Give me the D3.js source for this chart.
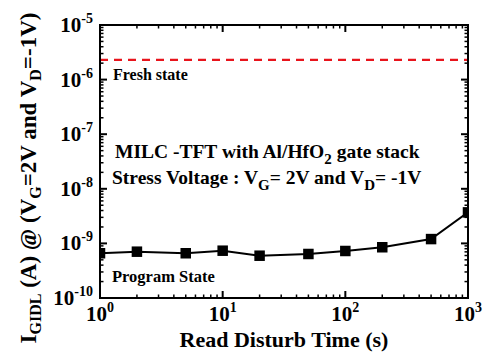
<!DOCTYPE html>
<html>
<head>
<meta charset="utf-8">
<script src="https://cdn.jsdelivr.net/npm/d3@7"></script>
<style>
  body { margin: 0; background: #fff; }
  text { font-family: "Liberation Serif", "Times New Roman", serif; font-weight: bold; fill: #000; }
</style>
</head>
<body>
<svg id="chart"></svg>
<script>
// ---- data ----
const times = [1, 2, 5, 10, 20, 50, 100, 200, 500, 1000];
const programCurrent = [6.6e-10, 7.05e-10, 6.6e-10, 7.35e-10, 5.95e-10, 6.4e-10, 7.26e-10, 8.5e-10, 1.2e-9, 3.7e-9];
const freshCurrent = 2.29e-6;
const xTickExps = [0, 1, 2, 3];
const yTickExps = [-10, -9, -8, -7, -6, -5];

// ---- setup ----
const width = 493, height = 360;
const margin = { left: 100, right: 25, top: 25, bottom: 62 };
const svg = d3.select("#chart").attr("width", width).attr("height", height);

const x = d3.scaleLog().domain([1, 1000]).range([margin.left, width - margin.right]);
const y = d3.scaleLog().domain([1e-10, 1e-5]).range([height - margin.bottom, margin.top]);

const x0 = x.range()[0], x1 = x.range()[1];
const y0 = y.range()[0], y1 = y.range()[1];

svg.append("clipPath").attr("id", "plotClip")
  .append("rect").attr("x", x0).attr("y", y1).attr("width", x1 - x0).attr("height", y0 - y1);

// minor tick values
const xMinor = [];
for (let e = 0; e < 3; e++) for (let m = 2; m <= 9; m++) xMinor.push(m * Math.pow(10, e));
const yMinor = [];
for (let e = -10; e < -5; e++) for (let m = 2; m <= 9; m++) yMinor.push(m * Math.pow(10, e));

const ticks = svg.append("g").attr("stroke", "#000");
// x ticks, bottom and top, pointing inward
xTickExps.forEach(e => {
  const px = x(Math.pow(10, e));
  ticks.append("line").attr("x1", px).attr("x2", px).attr("y1", y0).attr("y2", y0 - 7).attr("stroke-width", 2);
  ticks.append("line").attr("x1", px).attr("x2", px).attr("y1", y1).attr("y2", y1 + 7).attr("stroke-width", 2);
});
xMinor.forEach(v => {
  const px = x(v);
  ticks.append("line").attr("x1", px).attr("x2", px).attr("y1", y0).attr("y2", y0 - 3.5).attr("stroke-width", 1.5);
  ticks.append("line").attr("x1", px).attr("x2", px).attr("y1", y1).attr("y2", y1 + 3.5).attr("stroke-width", 1.5);
});
yTickExps.forEach(e => {
  const py = y(Math.pow(10, e));
  ticks.append("line").attr("x1", x0).attr("x2", x0 + 7).attr("y1", py).attr("y2", py).attr("stroke-width", 2);
  ticks.append("line").attr("x1", x1).attr("x2", x1 - 7).attr("y1", py).attr("y2", py).attr("stroke-width", 2);
});
yMinor.forEach(v => {
  const py = y(v);
  ticks.append("line").attr("x1", x0).attr("x2", x0 + 3.5).attr("y1", py).attr("y2", py).attr("stroke-width", 1.5);
  ticks.append("line").attr("x1", x1).attr("x2", x1 - 3.5).attr("y1", py).attr("y2", py).attr("stroke-width", 1.5);
});

// tick labels
xTickExps.forEach(e => {
  const t = svg.append("text")
    .attr("x", x(Math.pow(10, e)))
    .attr("y", 321)
    .attr("text-anchor", "middle")
    .style("font-size", "21px");
  t.append("tspan").text("10");
  t.append("tspan").attr("dy", -9).style("font-size", "14px").text(e);
});
yTickExps.forEach(e => {
  const t = svg.append("text")
    .attr("x", 93)
    .attr("y", y(Math.pow(10, e)) + 7)
    .attr("text-anchor", "end")
    .style("font-size", "21px");
  t.append("tspan").text("10");
  t.append("tspan").attr("dy", -9).style("font-size", "14px").text(e);
});

// axis titles
svg.append("text")
  .attr("x", (x0 + x1) / 2)
  .attr("y", 347)
  .attr("text-anchor", "middle")
  .style("font-size", "22px")
  .text("Read Disturb Time (s)");

const yl = svg.append("text")
  .attr("transform", "translate(36,178) rotate(-90)")
  .attr("text-anchor", "middle")
  .style("font-size", "23px");
yl.append("tspan").text("I");
yl.append("tspan").attr("dy", 5).style("font-size", "16px").text("GIDL");
yl.append("tspan").attr("dy", -5).text(" (A) @ (V");
yl.append("tspan").attr("dy", 5).style("font-size", "16px").text("G");
yl.append("tspan").attr("dy", -5).text("=2V and V");
yl.append("tspan").attr("dy", 5).style("font-size", "16px").text("D");
yl.append("tspan").attr("dy", -5).text("=-1V)");

// plot contents, clipped to frame
const plot = svg.append("g").attr("clip-path", "url(#plotClip)");

// fresh state dashed line
plot.append("line")
  .attr("x1", x0).attr("x2", x1)
  .attr("y1", y(freshCurrent)).attr("y2", y(freshCurrent))
  .attr("stroke", "#e8141c").attr("stroke-width", 2.2)
  .attr("stroke-dasharray", "8,6");

// program state line + markers
const line = d3.line().x((d, i) => x(times[i])).y(d => y(d));
plot.append("path")
  .datum(programCurrent)
  .attr("d", line)
  .attr("fill", "none").attr("stroke", "#000").attr("stroke-width", 2);

const ms = 10.5;
plot.append("g").selectAll("rect")
  .data(programCurrent)
  .join("rect")
  .attr("x", (d, i) => x(times[i]) - ms / 2)
  .attr("y", d => y(d) - ms / 2)
  .attr("width", ms).attr("height", ms)
  .attr("fill", "#000");

// frame
svg.append("rect")
  .attr("x", x0).attr("y", y1)
  .attr("width", x1 - x0).attr("height", y0 - y1)
  .attr("fill", "none").attr("stroke", "#000").attr("stroke-width", 2);

// annotations
svg.append("text").attr("x", 113).attr("y", 80).style("font-size", "16px").text("Fresh state");
svg.append("text").attr("x", 112).attr("y", 282).style("font-size", "16.5px").text("Program State");

const a1 = svg.append("text").attr("x", 115).attr("y", 158).style("font-size", "19.5px");
a1.append("tspan").text("MILC -TFT with Al/HfO");
a1.append("tspan").attr("dy", 6).style("font-size", "15px").text("2");
a1.append("tspan").attr("dy", -6).text(" gate stack");

const a2 = svg.append("text").attr("x", 112).attr("y", 184).style("font-size", "19.5px");
a2.append("tspan").text("Stress Voltage : V");
a2.append("tspan").attr("dy", 6).style("font-size", "15px").text("G");
a2.append("tspan").attr("dy", -6).text("= 2V and V");
a2.append("tspan").attr("dy", 6).style("font-size", "15px").text("D");
a2.append("tspan").attr("dy", -6).text("= -1V");
</script>
</body>
</html>
